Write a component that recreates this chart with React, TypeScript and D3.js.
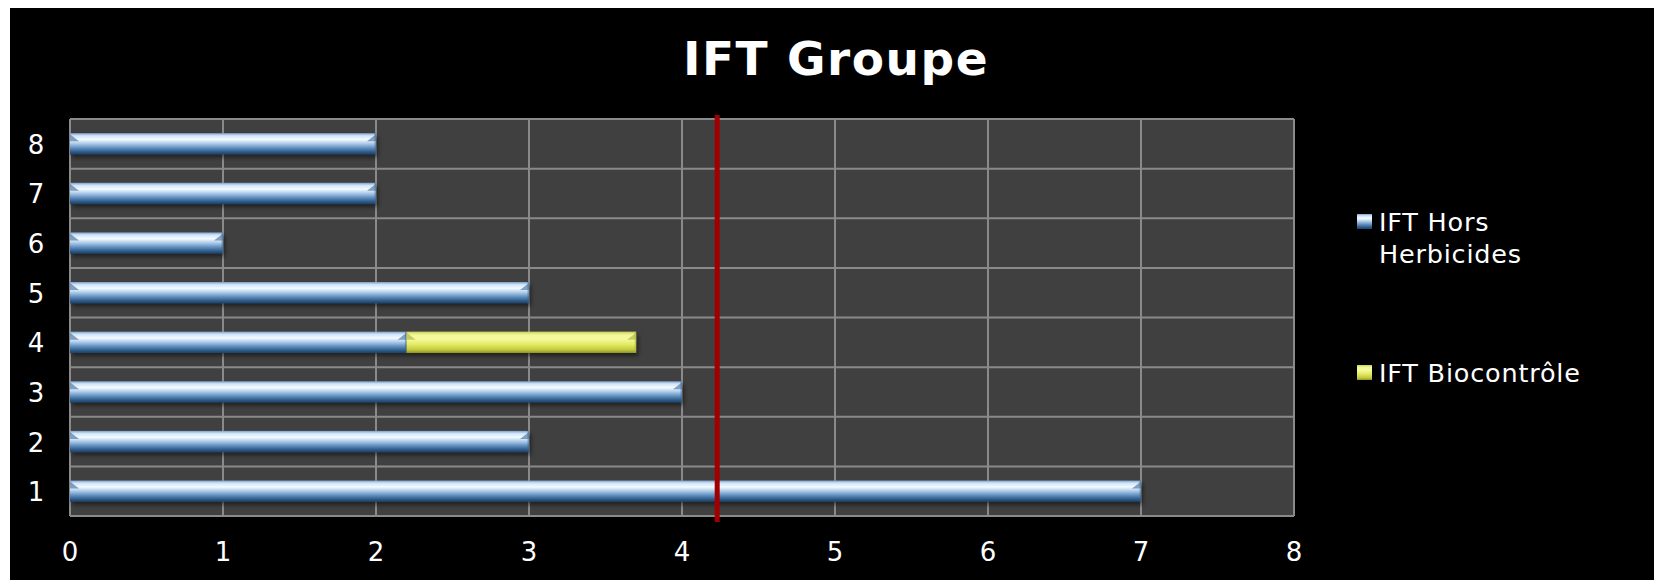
import React from 'react'
import * as d3 from 'd3'

const width = 1654
const height = 580
const margin = { top: 119, left: 70, bottom: 64, right: 360 }
const iwidth = 1294 - margin.left
const iheight = 516 - margin.top

// données du graphique
const categories = ['1', '2', '3', '4', '5', '6', '7', '8']
const horsHerbicides = [7, 3, 4, 2.2, 3, 1, 2, 2]
const biocontrole = [0, 0, 0, 1.5, 0, 0, 0, 0]
const xTicks = [0, 1, 2, 3, 4, 5, 6, 7, 8]
const seuil = 4.23
const seriesNames = ['IFT Hors Herbicides', 'IFT Biocontrôle']

const font = "'DejaVu Sans', Verdana, sans-serif"

const Bar = ({ x0, x1, y, h, grad, cap }: any) => {
  const w = x1 - x0
  if (w <= 0) return null
  const b = Math.min(9, w / 2)
  return (
    <g>
      <rect x={x0} y={y} width={w} height={h} fill={`url(#${grad})`} filter="url(#ombre)" />
      {/* biseaux aux extrémités */}
      <polygon points={`${x0},${y + 1} ${x0 + b},${y + 8} ${x0},${y + 8}`} fill={cap} opacity={0.6} />
      <polygon points={`${x1},${y + 1} ${x1 - b},${y + 8} ${x1},${y + 8}`} fill={cap} opacity={0.6} />
      <rect x={x1 - 1.5} y={y} width={1.5} height={h} fill={cap} opacity={0.5} />
    </g>
  )
}

const App = () => {
  const x = d3.scaleLinear().domain([0, 8]).range([0, iwidth])
  const y = d3.scaleBand().domain(categories).range([iheight, 0]).padding(0)
  const barH = y.bandwidth() * 0.43

  return (
    <div style={{ position: 'absolute', left: 0, top: 0 }}>
      <svg width={width} height={height} style={{ display: 'block' }}>
        <defs>
          <linearGradient id="bleu" x1="0" y1="0" x2="0" y2="1">
            <stop offset="0" stopColor="#7d9fc8" />
            <stop offset="0.12" stopColor="#cfe4fa" />
            <stop offset="0.3" stopColor="#f4fbff" />
            <stop offset="0.5" stopColor="#a9c8e8" />
            <stop offset="0.7" stopColor="#5f8dbd" />
            <stop offset="0.88" stopColor="#2f5b88" />
            <stop offset="1" stopColor="#1c3f66" />
          </linearGradient>
          <linearGradient id="jaune" x1="0" y1="0" x2="0" y2="1">
            <stop offset="0" stopColor="#c9cf55" />
            <stop offset="0.15" stopColor="#f2f79a" />
            <stop offset="0.35" stopColor="#f6fa9e" />
            <stop offset="0.6" stopColor="#e3ea63" />
            <stop offset="0.85" stopColor="#c3ca3e" />
            <stop offset="1" stopColor="#8e9424" />
          </linearGradient>
          <filter id="ombre" x="-5%" y="-30%" width="110%" height="170%">
            <feDropShadow dx="2" dy="3" stdDeviation="2" floodColor="#000" floodOpacity="0.5" />
          </filter>
        </defs>

        <rect x={0} y={0} width={width} height={height} fill="#fff" />
        <rect x={10} y={8} width={width - 10} height={height - 8} fill="#000" />

        <text x={836} y={75} textAnchor="middle" fill="#fff" fontFamily={font} fontWeight="bold" fontSize={47} letterSpacing={1.5}>
          IFT Groupe
        </text>

        <g transform={`translate(${margin.left},${margin.top})`}>
          <rect x={0} y={0} width={iwidth} height={iheight} fill="#404040" />
          {xTicks.map(t => (
            <line key={'gx' + t} x1={x(t)} x2={x(t)} y1={0} y2={iheight} stroke="#8a8a8a" strokeWidth={2} />
          ))}
          {categories.map(c => (
            <line key={'gy' + c} x1={0} x2={iwidth} y1={y(c)!} y2={y(c)!} stroke="#8a8a8a" strokeWidth={2} />
          ))}
          <line x1={0} x2={iwidth} y1={iheight} y2={iheight} stroke="#8a8a8a" strokeWidth={2} />

          {categories.map((c, i) => {
            const yy = y(c)! + (y.bandwidth() - barH) / 2
            const a = horsHerbicides[i]
            const b = biocontrole[i]
            return (
              <g key={'b' + c}>
                <Bar x0={x(0)} x1={x(a)} y={yy} h={barH} grad="bleu" cap="#3a6596" />
                <Bar x0={x(a)} x1={x(a + b)} y={yy} h={barH} grad="jaune" cap="#a9ae34" />
              </g>
            )
          })}

          <line x1={x(seuil)} x2={x(seuil)} y1={-4} y2={iheight + 6} stroke="#a00000" strokeWidth={5} />

          {categories.map(c => (
            <text key={'ty' + c} x={-34} y={y(c)! + y.bandwidth() / 2 + 10} textAnchor="middle" fill="#fff" fontFamily={font} fontSize={26}>
              {c}
            </text>
          ))}
          {xTicks.map(t => (
            <text key={'tx' + t} x={x(t)} y={iheight + 45} textAnchor="middle" fill="#fff" fontFamily={font} fontSize={26}>
              {t}
            </text>
          ))}
        </g>

        <g fontFamily={font} fontSize={25.5} fill="#fff" letterSpacing={0.8}>
          <rect x={1357} y={214} width={15} height={15} fill="url(#bleu)" />
          <text x={1379} y={231}>IFT Hors</text>
          <text x={1379} y={263}>Herbicides</text>
          <rect x={1357} y={365} width={15} height={15} fill="url(#jaune)" />
          <text x={1379} y={382}>{seriesNames[1]}</text>
        </g>
      </svg>
    </div>
  )
}

export default App
